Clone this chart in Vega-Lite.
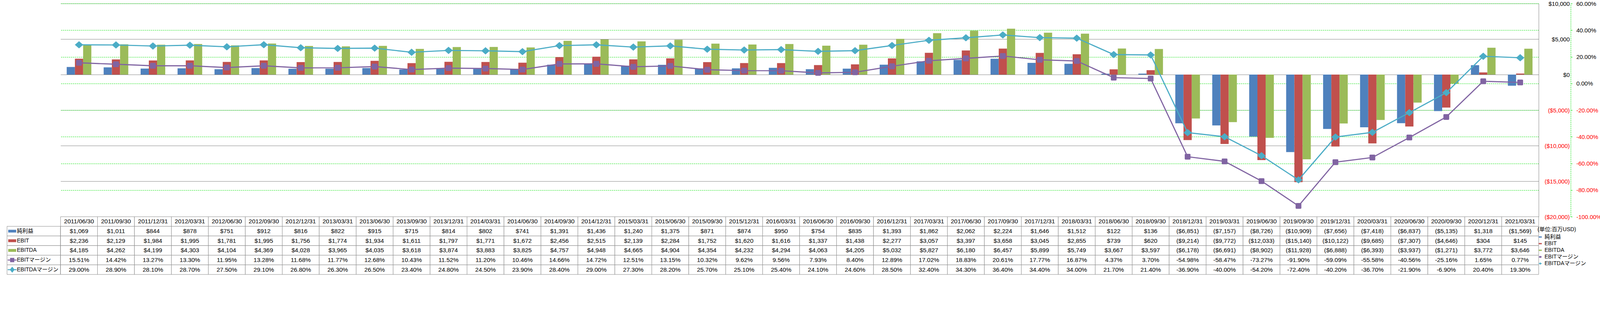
{
  "$schema": "https://vega.github.io/schema/vega-lite/v6.json",
  "padding": {"left": 14, "top": 2, "right": 0, "bottom": 0},
  "autosize": {"type": "pad"},
  "background": "white",
  "datasets": {
    "main": [
      {"date": "2011/06/30", "純利益": 1069, "EBIT": 2236, "EBITDA": 4185, "EBITマージン": 0.1551, "EBITDAマージン": 0.29},
      {"date": "2011/09/30", "純利益": 1011, "EBIT": 2129, "EBITDA": 4262, "EBITマージン": 0.1442, "EBITDAマージン": 0.289},
      {"date": "2011/12/31", "純利益": 844, "EBIT": 1984, "EBITDA": 4199, "EBITマージン": 0.1327, "EBITDAマージン": 0.281},
      {"date": "2012/03/31", "純利益": 878, "EBIT": 1995, "EBITDA": 4303, "EBITマージン": 0.133, "EBITDAマージン": 0.287},
      {"date": "2012/06/30", "純利益": 751, "EBIT": 1781, "EBITDA": 4104, "EBITマージン": 0.1195, "EBITDAマージン": 0.275},
      {"date": "2012/09/30", "純利益": 912, "EBIT": 1995, "EBITDA": 4369, "EBITマージン": 0.1328, "EBITDAマージン": 0.291},
      {"date": "2012/12/31", "純利益": 816, "EBIT": 1756, "EBITDA": 4028, "EBITマージン": 0.1168, "EBITDAマージン": 0.268},
      {"date": "2013/03/31", "純利益": 822, "EBIT": 1774, "EBITDA": 3965, "EBITマージン": 0.1177, "EBITDAマージン": 0.263},
      {"date": "2013/06/30", "純利益": 915, "EBIT": 1934, "EBITDA": 4035, "EBITマージン": 0.1268, "EBITDAマージン": 0.265},
      {"date": "2013/09/30", "純利益": 715, "EBIT": 1611, "EBITDA": 3618, "EBITマージン": 0.1043, "EBITDAマージン": 0.234},
      {"date": "2013/12/31", "純利益": 814, "EBIT": 1797, "EBITDA": 3874, "EBITマージン": 0.1152, "EBITDAマージン": 0.248},
      {"date": "2014/03/31", "純利益": 802, "EBIT": 1771, "EBITDA": 3883, "EBITマージン": 0.112, "EBITDAマージン": 0.245},
      {"date": "2014/06/30", "純利益": 741, "EBIT": 1672, "EBITDA": 3825, "EBITマージン": 0.1046, "EBITDAマージン": 0.239},
      {"date": "2014/09/30", "純利益": 1391, "EBIT": 2456, "EBITDA": 4757, "EBITマージン": 0.1466, "EBITDAマージン": 0.284},
      {"date": "2014/12/31", "純利益": 1436, "EBIT": 2515, "EBITDA": 4948, "EBITマージン": 0.1472, "EBITDAマージン": 0.29},
      {"date": "2015/03/31", "純利益": 1240, "EBIT": 2139, "EBITDA": 4665, "EBITマージン": 0.1251, "EBITDAマージン": 0.273},
      {"date": "2015/06/30", "純利益": 1375, "EBIT": 2284, "EBITDA": 4904, "EBITマージン": 0.1315, "EBITDAマージン": 0.282},
      {"date": "2015/09/30", "純利益": 871, "EBIT": 1752, "EBITDA": 4354, "EBITマージン": 0.1032, "EBITDAマージン": 0.257},
      {"date": "2015/12/31", "純利益": 874, "EBIT": 1620, "EBITDA": 4232, "EBITマージン": 0.0962, "EBITDAマージン": 0.251},
      {"date": "2016/03/31", "純利益": 950, "EBIT": 1616, "EBITDA": 4294, "EBITマージン": 0.0956, "EBITDAマージン": 0.254},
      {"date": "2016/06/30", "純利益": 754, "EBIT": 1337, "EBITDA": 4063, "EBITマージン": 0.0793, "EBITDAマージン": 0.241},
      {"date": "2016/09/30", "純利益": 835, "EBIT": 1438, "EBITDA": 4205, "EBITマージン": 0.084, "EBITDAマージン": 0.246},
      {"date": "2016/12/31", "純利益": 1393, "EBIT": 2277, "EBITDA": 5032, "EBITマージン": 0.1289, "EBITDAマージン": 0.285},
      {"date": "2017/03/31", "純利益": 1862, "EBIT": 3057, "EBITDA": 5827, "EBITマージン": 0.1702, "EBITDAマージン": 0.324},
      {"date": "2017/06/30", "純利益": 2062, "EBIT": 3397, "EBITDA": 6180, "EBITマージン": 0.1883, "EBITDAマージン": 0.343},
      {"date": "2017/09/30", "純利益": 2224, "EBIT": 3658, "EBITDA": 6457, "EBITマージン": 0.2061, "EBITDAマージン": 0.364},
      {"date": "2017/12/31", "純利益": 1646, "EBIT": 3045, "EBITDA": 5899, "EBITマージン": 0.1777, "EBITDAマージン": 0.344},
      {"date": "2018/03/31", "純利益": 1512, "EBIT": 2855, "EBITDA": 5749, "EBITマージン": 0.1687, "EBITDAマージン": 0.34},
      {"date": "2018/06/30", "純利益": 122, "EBIT": 739, "EBITDA": 3667, "EBITマージン": 0.0437, "EBITDAマージン": 0.217},
      {"date": "2018/09/30", "純利益": 136, "EBIT": 620, "EBITDA": 3597, "EBITマージン": 0.037, "EBITDAマージン": 0.214},
      {"date": "2018/12/31", "純利益": -6851, "EBIT": -9214, "EBITDA": -6178, "EBITマージン": -0.5498, "EBITDAマージン": -0.369},
      {"date": "2019/03/31", "純利益": -7157, "EBIT": -9772, "EBITDA": -6691, "EBITマージン": -0.5847, "EBITDAマージン": -0.4},
      {"date": "2019/06/30", "純利益": -8726, "EBIT": -12033, "EBITDA": -8902, "EBITマージン": -0.7327, "EBITDAマージン": -0.542},
      {"date": "2019/09/30", "純利益": -10909, "EBIT": -15140, "EBITDA": -11928, "EBITマージン": -0.919, "EBITDAマージン": -0.724},
      {"date": "2019/12/31", "純利益": -7656, "EBIT": -10122, "EBITDA": -6888, "EBITマージン": -0.5909, "EBITDAマージン": -0.402},
      {"date": "2020/03/31", "純利益": -7418, "EBIT": -9685, "EBITDA": -6393, "EBITマージン": -0.5558, "EBITDAマージン": -0.367},
      {"date": "2020/06/30", "純利益": -6837, "EBIT": -7307, "EBITDA": -3937, "EBITマージン": -0.4056, "EBITDAマージン": -0.219},
      {"date": "2020/09/30", "純利益": -5135, "EBIT": -4646, "EBITDA": -1271, "EBITマージン": -0.2516, "EBITDAマージン": -0.069},
      {"date": "2020/12/31", "純利益": 1318, "EBIT": 304, "EBITDA": 3772, "EBITマージン": 0.0165, "EBITDAマージン": 0.204},
      {"date": "2021/03/31", "純利益": -1569, "EBIT": 145, "EBITDA": 3646, "EBITマージン": 0.0077, "EBITDAマージン": 0.193}
    ]
  },
  "columns": 2,
  "spacing": 0,
  "bounds": "flush",
  "concat": [
    {
      "width": 136.5,
      "height": 546,
      "data": {"values": [{}]},
      "mark": {"type": "text", "text": ""}
    },
    {
      "width": 3784,
      "height": 546,
      "data": {"name": "main"},
      "encoding": {
        "x": {"field": "date", "type": "nominal", "sort": null, "axis": null, "scale": {"paddingInner": 0.3333, "paddingOuter": 0.16667}}
      },
      "layer": [
        {
          "transform": [{"fold": ["純利益", "EBIT", "EBITDA"], "as": ["series", "value"]}],
          "mark": {"type": "bar"},
          "encoding": {
            "xOffset": {"field": "series", "type": "nominal", "sort": ["純利益", "EBIT", "EBITDA"], "scale": {"paddingInner": 0, "paddingOuter": 0}},
            "y": {
              "field": "value", "type": "quantitative",
              "scale": {"domain": [-20000, 10000], "nice": false, "zero": false},
              "axis": {
                "orient": "right", "title": null,
                "values": [-20000, -15000, -10000, -5000, 0, 5000, 10000],
                "format": "($,.0f",
                "grid": true, "gridColor": "#868686", "gridWidth": 1,
                "domainColor": "#868686", "domainWidth": 1,
                "ticks": false, "labelPadding": 79, "labelAlign": "right",
                "labelFontSize": 15, "labelOverlap": false, "labelFlush": false, "labelBound": false,
                "labelColor": {"condition": {"test": "datum.value < 0", "value": "#FF0000"}, "value": "#000000"}
              }
            },
            "color": {
              "field": "series", "type": "nominal",
              "scale": {"domain": ["純利益", "EBIT", "EBITDA", "EBITマージン", "EBITDAマージン"], "range": ["#4F81BD", "#C0504D", "#9BBB59", "#8064A2", "#4BACC6"]},
              "legend": {
                "orient": "none", "legendX": 3918, "legendY": 572,
                "title": "(単位:百万USD)", "titleFontSize": 14, "titleFontWeight": "normal", "titlePadding": 5,
                "labelFontSize": 14, "symbolType": "square", "symbolSize": 70, "rowPadding": 3, "labelOffset": 4
              }
            }
          }
        },
        {
          "mark": {"type": "line", "color": "#8064A2", "strokeWidth": 2.9},
          "encoding": {
            "y": {
              "field": "EBITマージン", "type": "quantitative",
              "scale": {"domain": [-1, 0.6], "nice": false, "zero": false},
              "axis": {
                "orient": "right", "offset": 82, "title": null,
                "values": [-1, -0.8, -0.6, -0.4, -0.2, 0, 0.2, 0.4, 0.6],
                "format": ".2%",
                "grid": true, "gridColor": "#00E000", "gridDash": [3, 2], "gridWidth": 1.1,
                "domainColor": "#00E000", "domainDash": [3, 2], "domainWidth": 1.1,
                "tickColor": "#00E000", "tickSize": 4, "tickWidth": 1.1,
                "labelPadding": 10, "labelAlign": "left",
                "labelFontSize": 15, "labelOverlap": false, "labelFlush": false, "labelBound": false,
                "labelColor": {"condition": {"test": "datum.value < 0", "value": "#FF0000"}, "value": "#000000"}
              }
            }
          }
        },
        {
          "mark": {"type": "point", "filled": true, "opacity": 1, "color": "#8064A2", "size": 219,
            "shape": "M-0.7,-1L0.7,-1Q1,-1 1,-0.7L1,0.7Q1,1 0.7,1L-0.7,1Q-1,1 -1,0.7L-1,-0.7Q-1,-1 -0.7,-1Z"},
          "encoding": {"y": {"field": "EBITマージン", "type": "quantitative", "scale": {"domain": [-1, 0.6], "nice": false, "zero": false}, "axis": null}}
        },
        {
          "mark": {"type": "line", "color": "#4BACC6", "strokeWidth": 2.9},
          "encoding": {"y": {"field": "EBITDAマージン", "type": "quantitative", "scale": {"domain": [-1, 0.6], "nice": false, "zero": false}, "axis": null}}
        },
        {
          "mark": {"type": "point", "filled": true, "opacity": 1, "color": "#4BACC6", "size": 457,
            "shape": "M0,-0.87L1,0L0,0.87L-1,0Z"},
          "encoding": {"y": {"field": "EBITDAマージン", "type": "quantitative", "scale": {"domain": [-1, 0.6], "nice": false, "zero": false}, "axis": null}}
        }
      ],
      "resolve": {"scale": {"y": "independent"}, "axis": {"y": "independent"}}
    },
    {
      "width": 136.5,
      "height": 148,
      "data": {"values": [{"series": "純利益"}, {"series": "EBIT"}, {"series": "EBITDA"}, {"series": "EBITマージン"}, {"series": "EBITDAマージン"}]},
      "encoding": {
        "y": {"field": "series", "type": "nominal", "axis": null,
          "scale": {"domain": ["_header", "純利益", "EBIT", "EBITDA", "EBITマージン", "EBITDAマージン"], "paddingInner": 0, "paddingOuter": 0}}
      },
      "layer": [
        {"mark": {"type": "rect", "fill": "white", "stroke": "#8c8c8c", "strokeWidth": 1}},
        {
          "mark": {"type": "point", "filled": true, "opacity": 1, "size": 530, "strokeWidth": 2.5, "xOffset": -55},
          "encoding": {
            "color": {
              "field": "series", "type": "nominal",
              "scale": {"domain": ["純利益", "EBIT", "EBITDA", "EBITマージン", "EBITDAマージン"], "range": ["#4F81BD", "#C0504D", "#9BBB59", "#8064A2", "#4BACC6"]},
              "legend": null
            },
            "stroke": {
              "field": "series", "type": "nominal",
              "scale": {"domain": ["純利益", "EBIT", "EBITDA", "EBITマージン", "EBITDAマージン"], "range": ["#4F81BD", "#C0504D", "#9BBB59", "#8064A2", "#4BACC6"]},
              "legend": null
            },
            "shape": {
              "field": "series", "type": "nominal",
              "scale": {
                "domain": ["純利益", "EBIT", "EBITDA", "EBITマージン", "EBITDAマージン"],
                "range": [
                  "M-0.78,-0.2L0.78,-0.2L0.78,0.2L-0.78,0.2Z",
                  "M-0.78,-0.2L0.78,-0.2L0.78,0.2L-0.78,0.2Z",
                  "M-0.78,-0.2L0.78,-0.2L0.78,0.2L-0.78,0.2Z",
                  "M-1,0L1,0M-0.36,-0.36L0.36,-0.36L0.36,0.36L-0.36,0.36Z",
                  "M-1,0L1,0M0,-0.5L0.4,0L0,0.5L-0.4,0Z"
                ]
              },
              "legend": null
            }
          }
        },
        {
          "mark": {"type": "text", "align": "left", "dx": -43, "fontSize": 14},
          "encoding": {"text": {"field": "series", "type": "nominal"}}
        }
      ]
    },
    {
      "width": 3784,
      "height": 148,
      "data": {"name": "main"},
      "encoding": {
        "x": {"field": "date", "type": "nominal", "sort": null, "axis": null, "scale": {"paddingInner": 0, "paddingOuter": 0}}
      },
      "layer": [
        {
          "mark": {"type": "rect", "fill": "white", "stroke": "#8c8c8c", "strokeWidth": 1},
          "encoding": {
            "y": {"datum": "_header", "type": "nominal", "axis": null,
              "scale": {"domain": ["_header", "純利益", "EBIT", "EBITDA", "EBITマージン", "EBITDAマージン"], "paddingInner": 0, "paddingOuter": 0}}
          }
        },
        {
          "mark": {"type": "text", "fontSize": 15.5},
          "encoding": {
            "y": {"datum": "_header", "type": "nominal", "axis": null},
            "text": {"field": "date", "type": "nominal"}
          }
        },
        {
          "transform": [{"fold": ["純利益", "EBIT", "EBITDA", "EBITマージン", "EBITDAマージン"], "as": ["series", "value"]}],
          "mark": {"type": "rect", "fill": "white", "stroke": "#8c8c8c", "strokeWidth": 1},
          "encoding": {"y": {"field": "series", "type": "nominal", "axis": null}}
        },
        {
          "transform": [{"fold": ["純利益", "EBIT", "EBITDA"], "as": ["series", "value"]}],
          "mark": {"type": "text", "fontSize": 15.5},
          "encoding": {
            "y": {"field": "series", "type": "nominal", "axis": null},
            "text": {"field": "value", "type": "quantitative", "format": "($,.0f"}
          }
        },
        {
          "transform": [{"fold": ["EBITマージン", "EBITDAマージン"], "as": ["series", "value"]}],
          "mark": {"type": "text", "fontSize": 15.5},
          "encoding": {
            "y": {"field": "series", "type": "nominal", "axis": null},
            "text": {"field": "value", "type": "quantitative", "format": ".2%"}
          }
        }
      ]
    }
  ],
  "config": {
    "font": "Liberation Sans, Noto Sans CJK JP",
    "view": {"stroke": null},
    "text": {"font": "Liberation Sans, Noto Sans CJK JP", "fontSize": 15.5, "color": "#000000"},
    "axis": {"labelFont": "Liberation Sans, Noto Sans CJK JP"},
    "legend": {"labelFont": "Liberation Sans, Noto Sans CJK JP", "titleFont": "Liberation Sans, Noto Sans CJK JP", "labelColor": "#000000", "titleColor": "#000000"},
    "locale": {"number": {"decimal": ".", "thousands": ",", "grouping": [3], "currency": ["$", ""], "minus": "-"}}
  }
}
